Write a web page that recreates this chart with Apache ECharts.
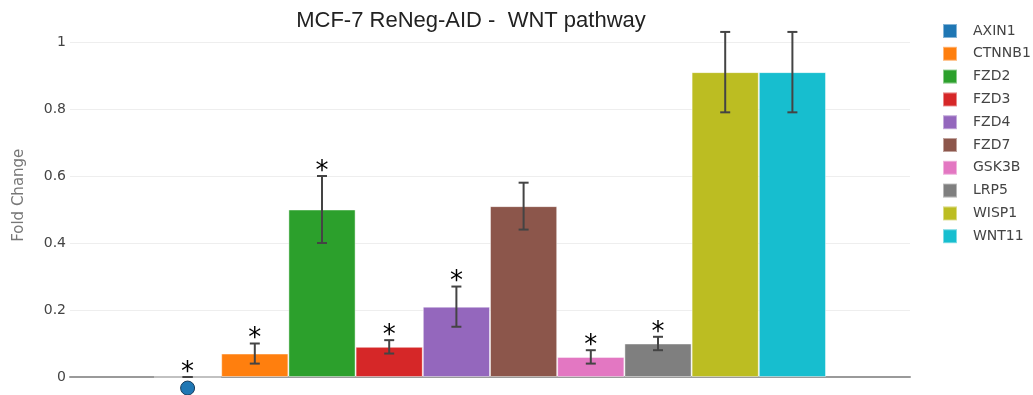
<!DOCTYPE html>
<html>
<head>
<meta charset="utf-8">
<script src="https://cdn.jsdelivr.net/npm/echarts@6/dist/echarts.min.js"></script>
<style>
  html, body { margin: 0; padding: 0; background: #fff; }
  #chart { width: 1033px; height: 395px; }
</style>
</head>
<body>
<div id="chart"></div>
<script>
// WNT pathway genes, fold change vs control, with SD and significance flags
const genes = ['AXIN1', 'CTNNB1', 'FZD2', 'FZD3', 'FZD4', 'FZD7', 'GSK3B', 'LRP5', 'WISP1', 'WNT11'];
const foldChange = [0, 0.07, 0.5, 0.09, 0.21, 0.51, 0.06, 0.1, 0.91, 0.91];
const errors = [0, 0.03, 0.1, 0.02, 0.06, 0.07, 0.02, 0.02, 0.12, 0.12];
const significant = [true, true, true, true, true, false, true, true, false, false];
// single outlying point drawn under the AXIN1 bar
const pointValues = [-0.033, null, null, null, null, null, null, null, null, null];
const colors = ['#1f77b4', '#ff7f0e', '#2ca02c', '#d62728', '#9467bd', '#8c564b', '#e377c2', '#7f7f7f', '#bcbd22', '#17becf'];
const yTicks = [0, 0.2, 0.4, 0.6, 0.8, 1];

const BAR_SHARE = 0.8; // bars fill 80% of the single category band

const barSeries = genes.map((g, i) => ({
  name: g,
  type: 'bar',
  data: [foldChange[i]],
  barGap: '0%',
  barCategoryGap: '20%',
  itemStyle: { color: colors[i], borderColor: 'rgba(255,255,255,0.45)', borderWidth: 1 },
  emphasis: { disabled: true },
  z: 2
}));

const annotData = genes.map((g, i) => [0, i, foldChange[i], errors[i], significant[i] ? 1 : 0, pointValues[i] == null ? NaN : pointValues[i]]);

function renderAnnot(params, api) {
  const gi = api.value(1);
  const v = api.value(2);
  const e = api.value(3);
  const sig = api.value(4);
  const pv = api.value(5);
  const band = api.size([1, 0])[0];
  const barW = band * BAR_SHARE / genes.length;
  const cx = api.coord([0, v])[0] + (gi - (genes.length - 1) / 2) * barW;
  const yTop = api.coord([0, v + e])[1];
  const yBot = api.coord([0, v - e])[1];
  const stroke = { stroke: '#444', lineWidth: 2 };
  const children = [
    { type: 'line', shape: { x1: cx, y1: yTop, x2: cx, y2: yBot }, style: stroke },
    { type: 'line', shape: { x1: cx - 5, y1: yTop, x2: cx + 5, y2: yTop }, style: stroke },
    { type: 'line', shape: { x1: cx - 5, y1: yBot, x2: cx + 5, y2: yBot }, style: stroke }
  ];
  if (sig) {
    children.push({
      type: 'text',
      style: {
        x: cx, y: yTop + 9, text: '*',
        fill: '#000', font: '26px "DejaVu Sans"',
        align: 'center', verticalAlign: 'bottom'
      }
    });
  }
  if (!isNaN(pv)) {
    const p = api.coord([0, pv]);
    children.push({
      type: 'circle',
      shape: { cx: cx, cy: p[1], r: 7 },
      style: { fill: colors[gi], stroke: '#1a3d5c', lineWidth: 1 }
    });
  }
  return { type: 'group', children: children };
}

const chart = echarts.init(document.getElementById('chart'), null, { renderer: 'canvas' });
chart.setOption({
  animation: false,
  title: {
    text: 'MCF-7 ReNeg-AID -  WNT pathway',
    left: 466,
    textAlign: 'center',
    top: 5,
    textStyle: { fontFamily: '"Liberation Sans", Arial', fontSize: 22, fontWeight: 'normal', color: '#222' }
  },
  legend: {
    data: genes,
    orient: 'vertical',
    left: 942,
    top: 23,
    padding: 0,
    icon: 'rect',
    itemWidth: 14,
    itemHeight: 14,
    itemGap: 6.8,
    textStyle: { fontFamily: '"DejaVu Sans", Verdana', fontSize: 14, color: '#444', lineHeight: 14, padding: [0, 0, 0, 11] }
  },
  grid: { left: 70, right: 123, top: 13.5, bottom: 18, containLabel: false, outerBoundsMode: 'none' },
  xAxis: {
    type: 'category',
    data: ['WNT'],
    axisLine: { show: true, lineStyle: { color: '#9a9a9a', width: 2 } },
    axisTick: { show: false },
    axisLabel: { show: false },
    splitLine: { show: false }
  },
  yAxis: {
    type: 'value',
    min: 0,
    max: 1.085,
    interval: 0.2,
    name: 'Fold Change',
    nameLocation: 'middle',
    nameGap: 43,
    nameRotate: 90,
    nameTextStyle: { fontFamily: '"DejaVu Sans", Verdana', fontSize: 15, color: '#777' },
    axisLine: { show: false },
    axisTick: { show: false },
    axisLabel: {
      margin: 4,
      fontFamily: '"DejaVu Sans", Verdana',
      fontSize: 14,
      color: '#444',
      showMaxLabel: false,
      formatter: (val) => {
        const t = yTicks.find(k => Math.abs(k - val) < 1e-6);
        return t === undefined ? '' : String(t);
      }
    },
    splitLine: { show: true, showMaxLine: false, lineStyle: { color: '#eee', width: 1 } }
  },
  series: barSeries.concat([{
    type: 'custom',
    name: 'annotations',
    renderItem: renderAnnot,
    data: annotData,
    encode: { x: 0, y: 2 },
    clip: false,
    silent: true,
    z: 5
  }])
});
</script>
</body>
</html>
